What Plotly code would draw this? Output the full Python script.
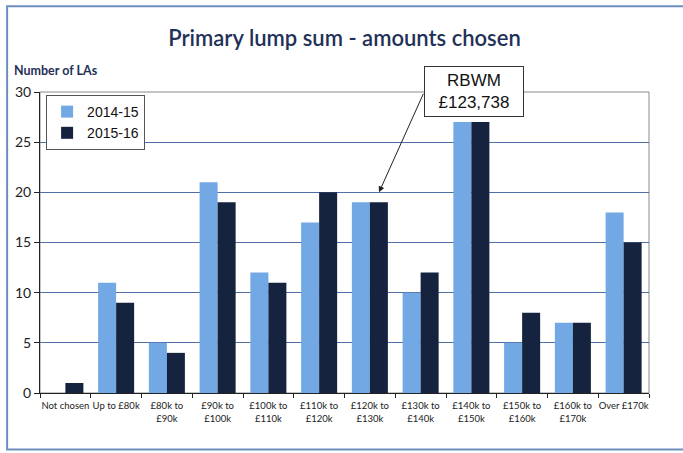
import plotly.graph_objects as go

# Lump sum bands and number of local authorities choosing each
categories = [
    "Not chosen", "Up to £80k", "£80k to<br>£90k", "£90k to<br>£100k",
    "£100k to<br>£110k", "£110k to<br>£120k", "£120k to<br>£130k",
    "£130k to<br>£140k", "£140k to<br>£150k", "£150k to<br>£160k",
    "£160k to<br>£170k", "Over £170k",
]
series_names = ["2014-15", "2015-16"]
values_2014_15 = [0, 11, 5, 21, 12, 17, 19, 10, 27, 5, 7, 18]
values_2015_16 = [1, 9, 4, 19, 11, 20, 19, 12, 27, 8, 7, 15]
y_ticks = [0, 5, 10, 15, 20, 25, 30]

LIGHT = "#72A8E4"
DARK = "#16233F"
NAVY_TEXT = "#1F3157"
GRID = "#4F6FA6"

fig = go.Figure()
fig.add_trace(go.Bar(x=categories, y=values_2014_15, name=series_names[0],
                     marker=dict(color=LIGHT, line=dict(width=0))))
fig.add_trace(go.Bar(x=categories, y=values_2015_16, name=series_names[1],
                     marker=dict(color=DARK, line=dict(width=0))))

fig.update_layout(
    width=683, height=453,
    margin=dict(l=40, r=34, t=92, b=60),
    paper_bgcolor="white", plot_bgcolor="white",
    barmode="group", bargap=0.29, bargroupgap=0.0,
    showlegend=True,
    legend=dict(
        x=0.01, y=0.99, xanchor="left", yanchor="top",
        bgcolor="white", bordercolor="#555555", borderwidth=1,
        font=dict(family="Liberation Sans, Arial", size=14, color="#111111"),
        itemwidth=30, tracegroupgap=6,
    ),
    title=dict(
        text="Primary lump sum - amounts chosen",
        x=0.5, xref="paper", xanchor="center",
        y=1 - 38 / 453, yanchor="middle",
        font=dict(family="Lato", size=22, color=NAVY_TEXT, weight=600),
    ),
)

fig.update_xaxes(
    type="category", showline=True, linecolor="#222222", linewidth=1,
    ticks="outside", tickson="boundaries", ticklen=4, tickcolor="#222222",
    tickangle=0, ticklabelstandoff=4,
    tickfont=dict(family="Lato", size=9.5, color="#222222"),
    showgrid=False, zeroline=False,
)
fig.update_yaxes(
    range=[0, 30], tickvals=y_ticks, showline=True, linecolor="#222222",
    linewidth=1, ticks="outside", ticklen=5, tickcolor="#222222",
    tickfont=dict(family="Lato", size=14, color="#222222"),
    showgrid=True, gridcolor=GRID, gridwidth=1, zeroline=False,
)

# Plot-area frame and outer chart frame
fig.add_shape(type="rect", xref="paper", yref="paper", x0=0, y0=0, x1=1, y1=1,
              line=dict(color="#8A8A8A", width=1), layer="below")
fig.add_shape(type="rect", xref="paper", yref="paper",
              x0=-0.054, y0=-0.188, x1=1.2, y1=1.285,
              line=dict(color="#6E8EBE", width=2))

# Axis caption
fig.add_annotation(text="Number of LAs", xref="paper", yref="paper",
                   x=-0.046, y=1.07, xanchor="left", yanchor="middle",
                   showarrow=False,
                   font=dict(family="Lato", size=12.5, color=NAVY_TEXT,
                             weight="bold"))

# Callout box and arrow
fig.add_annotation(text="RBWM<br>£123,738", xref="paper", yref="paper",
                   x=(474 - 40) / 609, y=(393 - 91) / 301,
                   xanchor="center", yanchor="middle", showarrow=False,
                   bgcolor="white", bordercolor="#333333", borderwidth=1,
                   borderpad=4, width=90,
                   font=dict(family="Liberation Sans, Arial", size=17,
                             color="#111111"))
fig.add_annotation(text="", x=6.18, y=20, xref="x", yref="y",
                   ax=45, ay=-100,
                   showarrow=True, arrowhead=2, arrowsize=1.2,
                   arrowwidth=1, arrowcolor="#222222")

fig.write_html("out.html")
